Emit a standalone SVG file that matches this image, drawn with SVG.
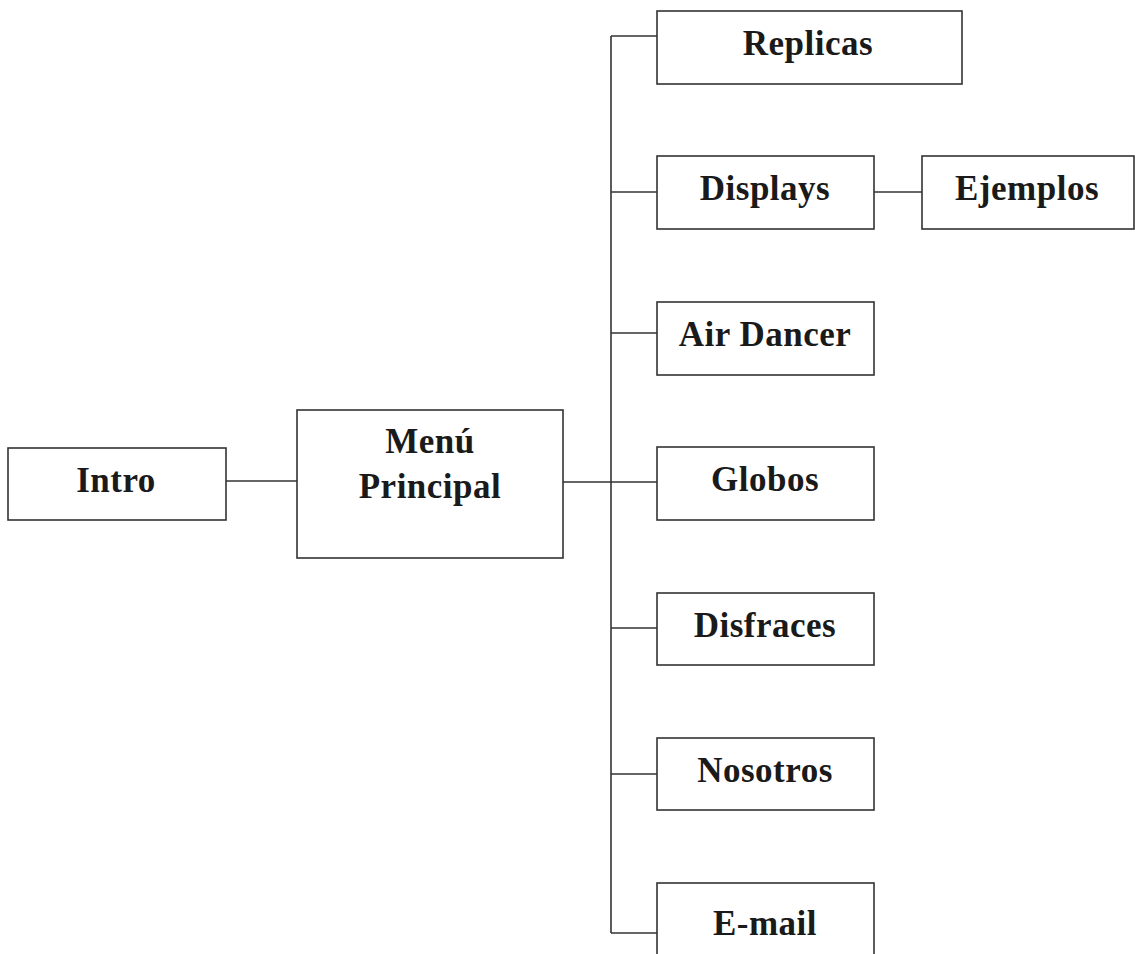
<svg xmlns="http://www.w3.org/2000/svg" width="1135" height="954" viewBox="0 0 1135 954">
<style>
.box{fill:#fff;stroke:#333;stroke-width:1.6}
.lbl{font-family:"Liberation Serif","Times New Roman",serif;font-weight:bold;font-size:35px;fill:#1a1a1a;text-anchor:middle;letter-spacing:0.5px}
.con{stroke:#333;stroke-width:1.6;fill:none}
</style>
<rect width="1135" height="954" fill="#fff"/>
<g id="connectors">
<line class="con" x1="226" y1="481" x2="297" y2="481"/>
<line class="con" x1="563" y1="482" x2="611" y2="482"/>
<line class="con" x1="611" y1="36" x2="611" y2="933"/>
<line class="con" x1="611" y1="36" x2="657" y2="36"/>
<line class="con" x1="611" y1="192" x2="657" y2="192"/>
<line class="con" x1="611" y1="333" x2="657" y2="333"/>
<line class="con" x1="611" y1="482" x2="657" y2="482"/>
<line class="con" x1="611" y1="628" x2="657" y2="628"/>
<line class="con" x1="611" y1="774" x2="657" y2="774"/>
<line class="con" x1="611" y1="933" x2="657" y2="933"/>
<line class="con" x1="874" y1="192" x2="922" y2="192"/>
</g>
<g id="intro"><rect class="box" x="8" y="448" width="218" height="72"/><text class="lbl" x="116" y="492">Intro</text></g>
<g id="menu"><rect class="box" x="297" y="410" width="266" height="148"/><text class="lbl" x="430" y="453">Menú</text><text class="lbl" x="430" y="498">Principal</text></g>
<g id="replicas"><rect class="box" x="657" y="11" width="305" height="73"/><text class="lbl" x="808" y="55">Replicas</text></g>
<g id="displays"><rect class="box" x="657" y="156" width="217" height="73"/><text class="lbl" x="765" y="200">Displays</text></g>
<g id="ejemplos"><rect class="box" x="922" y="156" width="212" height="73"/><text class="lbl" x="1027" y="200">Ejemplos</text></g>
<g id="airdancer"><rect class="box" x="657" y="302" width="217" height="73"/><text class="lbl" x="765" y="346">Air Dancer</text></g>
<g id="globos"><rect class="box" x="657" y="447" width="217" height="73"/><text class="lbl" x="765" y="491">Globos</text></g>
<g id="disfraces"><rect class="box" x="657" y="593" width="217" height="72"/><text class="lbl" x="765" y="637">Disfraces</text></g>
<g id="nosotros"><rect class="box" x="657" y="738" width="217" height="72"/><text class="lbl" x="765" y="782">Nosotros</text></g>
<g id="email"><rect class="box" x="657" y="883" width="217" height="80"/><text class="lbl" x="765" y="935">E-mail</text></g>
</svg>
